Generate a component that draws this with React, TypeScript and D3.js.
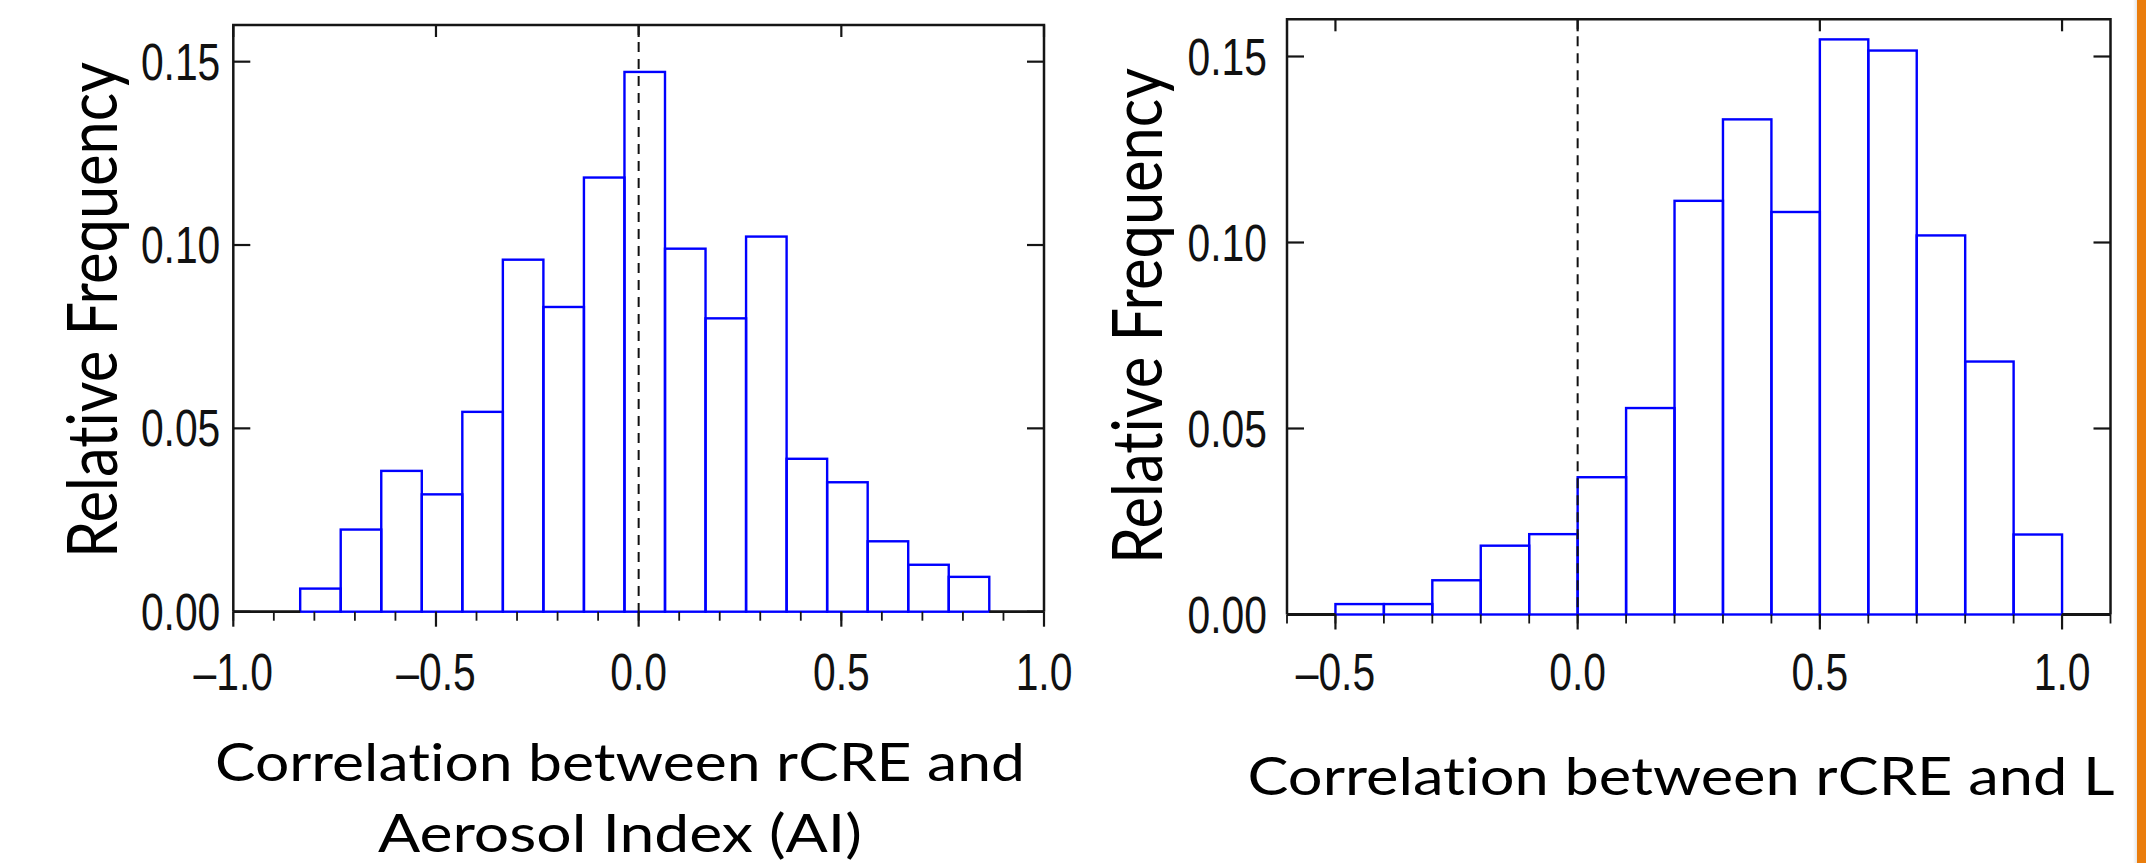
import React from "react";
import * as d3 from "d3";

// ---------- data ----------
const leftBinLefts = [-0.835, -0.735, -0.635, -0.535, -0.435, -0.335, -0.235, -0.135, -0.035, 0.065, 0.165, 0.265, 0.365, 0.465, 0.565, 0.665, 0.765];
const leftFreq = [0.0063, 0.0224, 0.0384, 0.032, 0.0545, 0.096, 0.0831, 0.1184, 0.1472, 0.099, 0.08, 0.1023, 0.0417, 0.0353, 0.0192, 0.0128, 0.0095];
const rightBinLefts = [-0.5, -0.4, -0.3, -0.2, -0.1, 0.0, 0.1, 0.2, 0.3, 0.4, 0.5, 0.6, 0.7, 0.8, 0.9];
const rightFreq = [0.0028, 0.0028, 0.0092, 0.0185, 0.0216, 0.0369, 0.0555, 0.1112, 0.1331, 0.1082, 0.1546, 0.1516, 0.1019, 0.068, 0.0215];
const binWidth = 0.1;

const yTicks = [0, 0.05, 0.1, 0.15];
const leftXTicks = [-1.0, -0.5, 0.0, 0.5, 1.0];
const rightXTicks = [-0.5, 0.0, 0.5, 1.0];
const leftMinor = [-1.0, -0.9, -0.8, -0.7, -0.6, -0.5, -0.4, -0.3, -0.2, -0.1, 0.0, 0.1, 0.2, 0.3, 0.4, 0.5, 0.6, 0.7, 0.8, 0.9, 1.0];
const rightMinor = [-0.6, -0.5, -0.4, -0.3, -0.2, -0.1, 0.0, 0.1, 0.2, 0.3, 0.4, 0.5, 0.6, 0.7, 0.8, 0.9, 1.0, 1.1];

const yLabel = "Relative Frequency";
const leftTitle = ["Correlation between rCRE and", "Aerosol Index (AI)"];
const rightTitle = ["Correlation between rCRE and L"];

const BLUE = "#0000ff";
const AXIS = "#151515";
const TICKFONT = "'Liberation Sans', Arial, Helvetica, sans-serif";
const TITLEFONT = "Lato, 'Open Sans', sans-serif";
const noLig = { fontVariantLigatures: "none", fontFeatureSettings: "'liga' 0, 'clig' 0" } as React.CSSProperties;

function fmtX(v: number) {
  const s = Math.abs(v).toFixed(1);
  return v < 0 ? "\u2013" + s : s;
}

type PanelProps = {
  binLefts: number[];
  freq: number[];
  xDomain: [number, number];
  xRange: [number, number];
  yRange: [number, number];
  majors: number[];
  minors: number[];
  yLabelGap: number;
  yTitleX: number;
  yTitleY: number;
  titles: string[];
  titleCx: number;
  titleBaselines: number[];
  titleLengths: number[];
};

function Panel(p: PanelProps) {
  const x = d3.scaleLinear().domain(p.xDomain).range(p.xRange);
  const y = d3.scaleLinear().domain([0, 0.16]).range(p.yRange);
  const [x0, x1] = p.xRange;
  const [yb, yt] = p.yRange;
  const tickScale = 0.8;
  const tickFs = 51;
  return (
    <g>
      {/* bars */}
      {p.binLefts.map((b, i) => (
        <rect
          key={"b" + i}
          x={x(b)}
          y={y(p.freq[i])}
          width={x(b + binWidth) - x(b)}
          height={y(0) - y(p.freq[i])}
          fill="none"
          stroke={BLUE}
          strokeWidth={2.4}
        />
      ))}
      {/* zero dashed line */}
      <line x1={x(0)} x2={x(0)} y1={yt} y2={yb} stroke="#111" strokeWidth={2} strokeDasharray="10,7" />
      {/* frame */}
      <path d={`M${x0},${yb}V${yt}H${x1}V${yb}`} fill="none" stroke={AXIS} strokeWidth={2.5} />
      <line x1={x0} x2={x(p.binLefts[0])} y1={yb} y2={yb} stroke={AXIS} strokeWidth={2.8} />
      <line x1={x(p.binLefts[p.binLefts.length - 1] + binWidth)} x2={x1} y1={yb} y2={yb} stroke={AXIS} strokeWidth={2.8} />
      {/* y ticks both sides, inward */}
      {yTicks.map((t) => (
        <g key={"yt" + t}>
          <line x1={x0} x2={x0 + 17} y1={y(t)} y2={y(t)} stroke={AXIS} strokeWidth={2.2} />
          <line x1={x1} x2={x1 - 17} y1={y(t)} y2={y(t)} stroke={AXIS} strokeWidth={2.2} />
          <text
            transform={`translate(${x0 - p.yLabelGap},${y(t) + 18}) scale(${tickScale},1)`}
            textAnchor="end"
            fontFamily={TICKFONT}
            fontSize={tickFs}
            fill="#111"
          >
            {t.toFixed(2)}
          </text>
        </g>
      ))}
      {/* x minor ticks */}
      {p.minors.map((t) => (
        <line key={"mn" + t} x1={x(t)} x2={x(t)} y1={yb} y2={yb + 9} stroke={AXIS} strokeWidth={1.8} />
      ))}
      {/* x major ticks */}
      {p.majors.map((t) => (
        <g key={"mj" + t}>
          <line x1={x(t)} x2={x(t)} y1={yb} y2={yb + 15} stroke={AXIS} strokeWidth={2.2} />
          <line x1={x(t)} x2={x(t)} y1={yt} y2={yt + 12} stroke={AXIS} strokeWidth={2.2} />
          <text
            transform={`translate(${x(t)},690) scale(${tickScale},1)`}
            textAnchor="middle"
            fontFamily={TICKFONT}
            fontSize={tickFs}
            fill="#111"
          >
            {fmtX(t)}
          </text>
        </g>
      ))}
      {/* y title */}
      <text
        transform={`translate(${p.yTitleX},${p.yTitleY}) scale(1.25,1) rotate(-90)`}
        textAnchor="middle"
        fontFamily={TITLEFONT}
        fontSize={56}
        textLength={496}
        lengthAdjust="spacingAndGlyphs"
        fill="#000"
        style={noLig}
      >
        {yLabel}
      </text>
      {/* x title */}
      {p.titles.map((t, i) => (
        <text
          key={"tt" + i}
          x={p.titleCx}
          y={p.titleBaselines[i]}
          textAnchor="middle"
          fontFamily={TITLEFONT}
          fontSize={52}
          textLength={p.titleLengths[i]}
          lengthAdjust="spacingAndGlyphs"
          fill="#000"
          style={noLig}
        >
          {t}
        </text>
      ))}
    </g>
  );
}

export default function App() {
  return (
    <div style={{ position: "absolute", left: 0, top: 0, width: 2146, height: 863, background: "#fff" }}>
      <svg width={2146} height={863} viewBox="0 0 2146 863" style={{ display: "block" }}>
        <rect x={0} y={0} width={2146} height={863} fill="#fff" />
        <Panel
          binLefts={leftBinLefts}
          freq={leftFreq}
          xDomain={[-1, 1]}
          xRange={[233.3, 1044]}
          yRange={[611.7, 25]}
          majors={leftXTicks}
          minors={leftMinor}
          yLabelGap={13}
          yTitleX={117}
          yTitleY={310}
          titles={leftTitle}
          titleCx={620}
          titleBaselines={[781, 852]}
          titleLengths={[810, 484]}
        />
        <Panel
          binLefts={rightBinLefts}
          freq={rightFreq}
          xDomain={[-0.6, 1.1]}
          xRange={[1287, 2110.5]}
          yRange={[614.5, 19.3]}
          majors={rightXTicks}
          minors={rightMinor}
          yLabelGap={20}
          yTitleX={1162}
          yTitleY={316}
          titles={rightTitle}
          titleCx={1681}
          titleBaselines={[795]}
          titleLengths={[867]}
        />
        <defs>
          <linearGradient id="edge" x1="0" x2="1" y1="0" y2="0">
            <stop offset="0" stopColor="#ffffff" />
            <stop offset="1" stopColor="#e6e6e6" />
          </linearGradient>
        </defs>
        <rect x={2133} y={0} width={4} height={863} fill="url(#edge)" />
        <rect x={2137} y={0} width={9} height={863} fill="#ea7d0c" />
      </svg>
    </div>
  );
}
